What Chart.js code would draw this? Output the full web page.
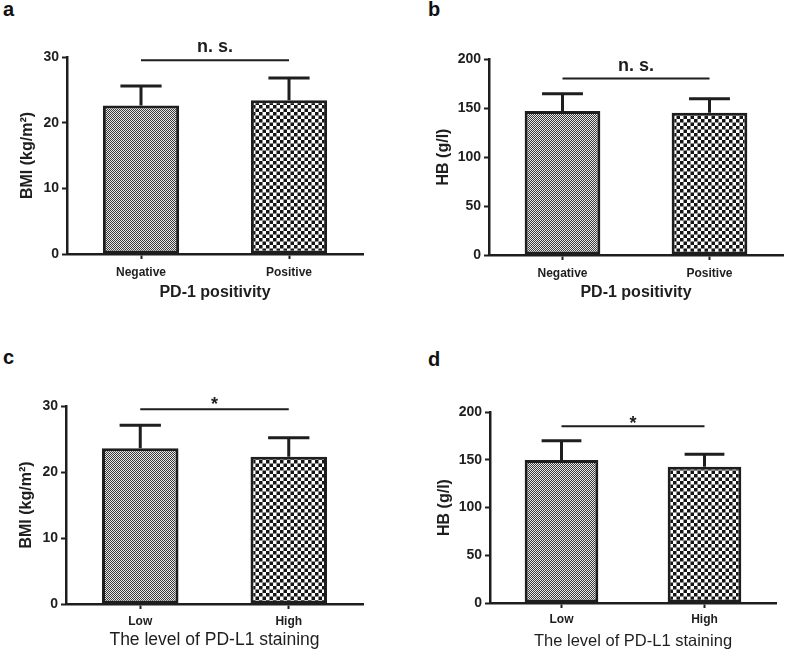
<!DOCTYPE html>
<html>
<head>
<meta charset="utf-8">
<script src="https://cdn.jsdelivr.net/npm/chart.js@4.4.0/dist/chart.umd.min.js"></script>
<style>
  html, body { margin: 0; padding: 0; background: #fff; }
  body { width: 787px; height: 654px; position: relative; overflow: hidden; font-family: "Liberation Sans", Arial, sans-serif; }
  .panel { position: absolute; }
  .lbl { position: absolute; font: bold 20px/20px "Liberation Sans", Arial, sans-serif; color: #111; }
</style>
</head>
<body>
<div class="lbl" style="left:3px;top:-1px;">a</div>
<div class="lbl" style="left:428px;top:-1px;">b</div>
<div class="lbl" style="left:3px;top:347px;">c</div>
<div class="lbl" style="left:428px;top:349px;">d</div>

<div class="panel" style="left:0;top:0;width:393px;height:310px;"><canvas id="ca"></canvas></div>
<div class="panel" style="left:393px;top:0;width:394px;height:310px;"><canvas id="cb"></canvas></div>
<div class="panel" style="left:0;top:320px;width:393px;height:334px;"><canvas id="cc"></canvas></div>
<div class="panel" style="left:393px;top:320px;width:394px;height:334px;"><canvas id="cd"></canvas></div>

<script>
// ---- data ----
const categoriesPD1 = ['Negative', 'Positive'];
const categoriesPDL1 = ['Low', 'High'];

const bmiPD1Mean = [22.6, 23.4];
const bmiPD1Err  = [3.0, 3.4];
const hbPD1Mean  = [147.0, 145.2];
const hbPD1Err   = [17.6, 14.3];

const bmiPDL1Mean = [23.6, 22.3];
const bmiPDL1Err  = [3.5, 2.9];
const hbPDL1Mean  = [149.7, 142.8];
const hbPDL1Err   = [20.3, 12.9];

const bmiTicks = [0, 10, 20, 30];
const hbTicks  = [0, 50, 100, 150, 200];

const sigTexts  = ['n. s.', 'n. s.', '*', '*'];
const sigLevels = [29.5, 180, 29.5, 185];

const yTitles = ['BMI (kg/m²)', 'HB (g/l)', 'BMI (kg/m²)', 'HB (g/l)'];
const xTitles = ['PD-1 positivity', 'PD-1 positivity', 'The level of PD-L1 staining', 'The level of PD-L1 staining'];

// ---- patterns ----
const INK = '#1e1e1e';
const FONT = '"Liberation Sans", Arial, sans-serif';

function makePattern(size, cell, dark, light) {
  const c = document.createElement('canvas');
  c.width = size; c.height = size;
  const g = c.getContext('2d');
  g.fillStyle = light; g.fillRect(0, 0, size, size);
  g.fillStyle = dark;
  g.fillRect(0, 0, cell, cell);
  g.fillRect(cell, cell, size - cell, size - cell);
  return g.createPattern(c, 'repeat');
}
const fineFill = makePattern(2, 1, '#3a3a3a', '#e8e8e8');
const coarseFill = makePattern(7, 3.5, '#151515', '#ffffff');

// ---- annotation plugin: error bars + significance ----
const annotPlugin = {
  id: 'annot',
  afterDatasetsDraw(chart, args, opts) {
    const ctx = chart.ctx;
    const xs = chart.scales.x, ys = chart.scales.y;
    const meta = chart.getDatasetMeta(0);
    ctx.save();
    ctx.strokeStyle = INK;
    ctx.lineWidth = 3;
    opts.means.forEach((m, i) => {
      const bar = meta.data[i];
      const cx = xs.getPixelForValue(i);
      const yb = ys.getPixelForValue(m);
      const yt = ys.getPixelForValue(m + opts.errs[i]);
      const hw = bar.width * 0.27;
      ctx.beginPath();
      ctx.moveTo(cx, yb); ctx.lineTo(cx, yt);
      ctx.moveTo(cx - hw, yt); ctx.lineTo(cx + hw, yt);
      ctx.stroke();
    });
    const x0 = xs.getPixelForValue(0), x1 = xs.getPixelForValue(1);
    const yl = ys.getPixelForValue(opts.sigLevel);
    ctx.lineWidth = 2;
    ctx.beginPath(); ctx.moveTo(x0, yl); ctx.lineTo(x1, yl); ctx.stroke();
    ctx.fillStyle = INK;
    ctx.textAlign = 'center';
    ctx.font = 'bold 18px ' + FONT;
    ctx.textBaseline = 'alphabetic';
    if (opts.sigText === '*') {
      ctx.fillText(opts.sigText, (x0 + x1) / 2, yl + 3 - opts.starLift);
    } else {
      ctx.fillText(opts.sigText, (x0 + x1) / 2, yl - 8);
    }
    ctx.restore();
  }
};

function makeChart(id, cfg) {
  const W = cfg.W, H = cfg.H;
  new Chart(document.getElementById(id), {
    type: 'bar',
    data: {
      labels: cfg.labels,
      datasets: [{
        data: cfg.means,
        backgroundColor: [fineFill, coarseFill],
        borderColor: INK,
        borderWidth: 3,
        borderSkipped: false,
        barPercentage: 1,
        categoryPercentage: 0.515
      }]
    },
    options: {
      responsive: true,
      maintainAspectRatio: false,
      animation: false,
      devicePixelRatio: 1,
      layout: { padding: { left: 0, top: cfg.area.top, right: W - cfg.area.right, bottom: 0 } },
      plugins: {
        legend: { display: false },
        tooltip: { enabled: false },
        annot: { means: cfg.means, errs: cfg.errs, sigLevel: cfg.sigLevel, sigText: cfg.sigText, starLift: cfg.starLift || 0 }
      },
      scales: {
        x: {
          offset: true,
          grid: { display: true, offset: false, drawOnChartArea: false, drawTicks: true, tickLength: 5, tickWidth: 2, tickColor: INK },
          border: { display: true, color: INK, width: 2.5 },
          ticks: { color: INK, font: { family: FONT, size: 12, weight: 'bold' }, padding: cfg.xTickPad, maxRotation: 0 },
          title: { display: true, text: cfg.xTitle, color: INK, font: { family: FONT, size: cfg.xTitleSize, weight: cfg.xTitleWeight }, padding: { top: 0, bottom: cfg.xTitlePad } },
          afterFit(scale) { scale.height = H - cfg.area.bottom; }
        },
        y: {
          min: cfg.yTicks[0],
          max: cfg.yTicks[cfg.yTicks.length - 1],
          grid: { display: true, drawOnChartArea: false, drawTicks: true, tickLength: 5, tickWidth: 2, tickColor: INK },
          border: { display: true, color: INK, width: 2.5 },
          ticks: { color: INK, font: { family: FONT, size: 14, weight: 'bold' }, padding: 3 },
          afterBuildTicks(scale) { scale.ticks = cfg.yTicks.map(v => ({ value: v })); },
          title: { display: true, text: cfg.yTitle, color: INK, font: { family: FONT, size: 16, weight: 'bold' }, padding: { top: cfg.yTitlePad, bottom: 0 } },
          afterFit(scale) { scale.width = cfg.area.left; }
        }
      }
    },
    plugins: [annotPlugin]
  });
}

makeChart('ca', {
  W: 393, H: 310, area: { left: 67, right: 363, top: 57, bottom: 254 },
  labels: categoriesPD1, means: bmiPD1Mean, errs: bmiPD1Err, yTicks: bmiTicks,
  sigLevel: sigLevels[0], sigText: sigTexts[0],
  yTitle: yTitles[0], xTitle: xTitles[0], xTitleWeight: 'bold', xTitleSize: 16,
  xTickPad: 6, xTitlePad: 8, yTitlePad: 18
});
makeChart('cb', {
  W: 394, H: 310, area: { left: 96, right: 390, top: 59, bottom: 255 },
  labels: categoriesPD1, means: hbPD1Mean, errs: hbPD1Err, yTicks: hbTicks,
  sigLevel: sigLevels[1], sigText: sigTexts[1],
  yTitle: yTitles[1], xTitle: xTitles[1], xTitleWeight: 'bold', xTitleSize: 16,
  xTickPad: 6, xTitlePad: 8, yTitlePad: 41
});
makeChart('cc', {
  W: 393, H: 334, area: { left: 66, right: 363, top: 86, bottom: 284 },
  labels: categoriesPDL1, means: bmiPDL1Mean, errs: bmiPDL1Err, yTicks: bmiTicks,
  sigLevel: sigLevels[2], sigText: sigTexts[2], starLift: 2,
  yTitle: yTitles[2], xTitle: xTitles[2], xTitleWeight: 'normal', xTitleSize: 17.5,
  xTickPad: 5, xTitlePad: 3, yTitlePad: 17
});
makeChart('cd', {
  W: 394, H: 334, area: { left: 97, right: 383, top: 92, bottom: 283 },
  labels: categoriesPDL1, means: hbPDL1Mean, errs: hbPDL1Err, yTicks: hbTicks,
  sigLevel: sigLevels[3], sigText: sigTexts[3], starLift: 0,
  yTitle: yTitles[3], xTitle: xTitles[3], xTitleWeight: 'normal', xTitleSize: 16.5,
  xTickPad: 4, xTitlePad: 3, yTitlePad: 42
});
</script>
</body>
</html>
